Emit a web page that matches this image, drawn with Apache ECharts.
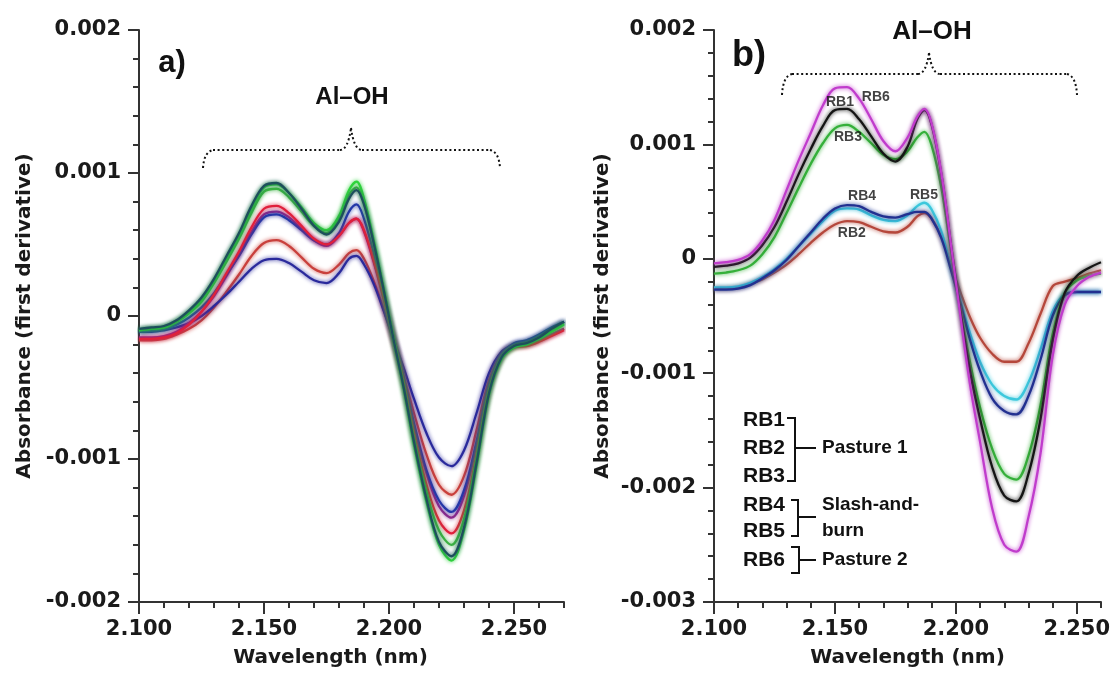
<!DOCTYPE html>
<html><head><meta charset="utf-8">
<script src="https://cdn.jsdelivr.net/npm/echarts@6/dist/echarts.min.js"></script>
<style>html,body{margin:0;padding:0;background:#fff}#c{width:1114px;height:673px}</style>
</head><body><div id="c"></div>
<script>
// ---------- DATA ----------
const wavelengthA = [2.100,2.105,2.110,2.115,2.120,2.125,2.130,2.135,2.140,2.145,2.150,2.155,2.160,2.165,2.170,2.175,2.180,2.184,2.187,2.190,2.194,2.198,2.202,2.206,2.210,2.215,2.220,2.225,2.230,2.235,2.240,2.245,2.250,2.255,2.260,2.265,2.270];
const wavelengthB = [2.100,2.105,2.110,2.115,2.120,2.125,2.130,2.135,2.140,2.145,2.150,2.155,2.160,2.165,2.170,2.175,2.180,2.184,2.187,2.190,2.194,2.198,2.202,2.206,2.210,2.215,2.220,2.225,2.230,2.235,2.240,2.245,2.250,2.255,2.260];
const xTickValues = [2.100, 2.150, 2.200, 2.250];

// panel a) spectra
const aRedLow   = [-0.00017,-0.00017,-0.00016,-0.00013,-0.00009,-0.00003,0.00006,0.00017,0.00029,0.00042,0.00051,0.00053,0.00049,0.00041,0.00033,0.00030,0.00036,0.00044,0.00046,0.00040,0.00024,0.00004,-0.00019,-0.00043,-0.00068,-0.00097,-0.00118,-0.00125,-0.00112,-0.00080,-0.00045,-0.00027,-0.00021,-0.00020,-0.00017,-0.00013,-0.00009];
const aBlueLow  = [-0.00011,-0.00011,-0.00010,-0.00008,-0.00005,0.00000,0.00007,0.00015,0.00024,0.00033,0.00039,0.00040,0.00037,0.00031,0.00025,0.00023,0.00030,0.00040,0.00042,0.00036,0.00022,0.00003,-0.00017,-0.00037,-0.00058,-0.00082,-0.00099,-0.00105,-0.00094,-0.00068,-0.00040,-0.00025,-0.00020,-0.00018,-0.00014,-0.00009,-0.00004];
const aPurple   = [-0.00015,-0.00015,-0.00014,-0.00011,-0.00005,0.00003,0.00014,0.00028,0.00043,0.00059,0.00071,0.00073,0.00069,0.00061,0.00053,0.00049,0.00056,0.00065,0.00068,0.00059,0.00037,0.00011,-0.00016,-0.00045,-0.00077,-0.00110,-0.00133,-0.00141,-0.00126,-0.00090,-0.00050,-0.00028,-0.00021,-0.00020,-0.00017,-0.00013,-0.00009];
const aRed      = [-0.00016,-0.00016,-0.00015,-0.00012,-0.00006,0.00003,0.00015,0.00030,0.00045,0.00062,0.00075,0.00077,0.00072,0.00063,0.00054,0.00050,0.00056,0.00065,0.00068,0.00060,0.00038,0.00012,-0.00017,-0.00047,-0.00082,-0.00118,-0.00143,-0.00152,-0.00136,-0.00097,-0.00052,-0.00029,-0.00022,-0.00021,-0.00018,-0.00014,-0.00010];
const aBlue     = [-0.00011,-0.00010,-0.00009,-0.00006,-0.00001,0.00006,0.00016,0.00029,0.00042,0.00057,0.00069,0.00071,0.00067,0.00060,0.00053,0.00050,0.00058,0.00073,0.00078,0.00068,0.00043,0.00014,-0.00016,-0.00044,-0.00075,-0.00108,-0.00129,-0.00137,-0.00122,-0.00088,-0.00048,-0.00027,-0.00019,-0.00017,-0.00013,-0.00008,-0.00004];
const aGreenMid = [-0.00010,-0.00009,-0.00008,-0.00004,0.00002,0.00010,0.00023,0.00038,0.00054,0.00072,0.00087,0.00089,0.00083,0.00073,0.00063,0.00058,0.00068,0.00085,0.00090,0.00079,0.00050,0.00017,-0.00017,-0.00050,-0.00086,-0.00123,-0.00150,-0.00160,-0.00142,-0.00100,-0.00053,-0.00029,-0.00021,-0.00019,-0.00015,-0.00010,-0.00005];
const aGreen    = [-0.00010,-0.00009,-0.00008,-0.00004,0.00002,0.00011,0.00024,0.00040,0.00056,0.00075,0.00090,0.00092,0.00086,0.00076,0.00065,0.00060,0.00070,0.00088,0.00094,0.00082,0.00052,0.00018,-0.00018,-0.00052,-0.00090,-0.00130,-0.00160,-0.00171,-0.00150,-0.00105,-0.00055,-0.00030,-0.00022,-0.00020,-0.00016,-0.00011,-0.00006];
const aTeal     = [-0.00009,-0.00008,-0.00007,-0.00003,0.00004,0.00013,0.00026,0.00042,0.00058,0.00077,0.00091,0.00093,0.00086,0.00075,0.00063,0.00057,0.00066,0.00082,0.00088,0.00078,0.00050,0.00017,-0.00018,-0.00051,-0.00088,-0.00128,-0.00158,-0.00168,-0.00148,-0.00103,-0.00054,-0.00029,-0.00021,-0.00019,-0.00015,-0.00009,-0.00004];

// panel b) spectra
const rb2 = [-0.00026,-0.00026,-0.00025,-0.00022,-0.00018,-0.00012,-0.00005,0.00004,0.00014,0.00023,0.00030,0.00033,0.00032,0.00028,0.00024,0.00023,0.00028,0.00037,0.00040,0.00035,0.00019,-0.00006,-0.00030,-0.00052,-0.00069,-0.00083,-0.00090,-0.00090,-0.00074,-0.00048,-0.00024,-0.00020,-0.00017,-0.00013,-0.00010];
const rb5 = [-0.00025,-0.00025,-0.00024,-0.00021,-0.00016,-0.00009,0.00000,0.00011,0.00022,0.00033,0.00042,0.00044,0.00043,0.00038,0.00034,0.00033,0.00038,0.00046,0.00049,0.00043,0.00024,-0.00008,-0.00038,-0.00066,-0.00090,-0.00110,-0.00120,-0.00123,-0.00108,-0.00079,-0.00046,-0.00031,-0.00029,-0.00029,-0.00029];
const rb4 = [-0.00027,-0.00027,-0.00026,-0.00023,-0.00017,-0.00010,-0.00001,0.00011,0.00023,0.00035,0.00044,0.00047,0.00046,0.00041,0.00037,0.00036,0.00039,0.00041,0.00041,0.00035,0.00018,-0.00010,-0.00040,-0.00072,-0.00098,-0.00122,-0.00133,-0.00136,-0.00120,-0.00088,-0.00050,-0.00032,-0.00029,-0.00029,-0.00029];
const rb3 = [-0.00013,-0.00012,-0.00010,-0.00006,0.00004,0.00019,0.00040,0.00062,0.00083,0.00101,0.00114,0.00117,0.00111,0.00101,0.00091,0.00087,0.00094,0.00106,0.00111,0.00099,0.00062,0.00007,-0.00045,-0.00092,-0.00130,-0.00166,-0.00188,-0.00193,-0.00172,-0.00128,-0.00066,-0.00030,-0.00019,-0.00015,-0.00013];
const rb1 = [-0.00007,-0.00006,-0.00004,0.00001,0.00012,0.00028,0.00050,0.00074,0.00096,0.00116,0.00130,0.00131,0.00122,0.00107,0.00092,0.00085,0.00098,0.00122,0.00130,0.00117,0.00074,0.00012,-0.00048,-0.00100,-0.00140,-0.00182,-0.00207,-0.00212,-0.00188,-0.00140,-0.00072,-0.00030,-0.00015,-0.00008,-0.00003];
const rb6 = [-0.00004,-0.00003,-0.00001,0.00004,0.00016,0.00034,0.00060,0.00086,0.00110,0.00134,0.00149,0.00150,0.00140,0.00122,0.00103,0.00094,0.00106,0.00124,0.00131,0.00118,0.00075,0.00012,-0.00052,-0.00112,-0.00160,-0.00218,-0.00250,-0.00256,-0.00226,-0.00170,-0.00085,-0.00040,-0.00024,-0.00016,-0.00012];

// on-curve labels of panel b)
const rbLabelNames = ['RB1','RB6','RB3','RB4','RB5','RB2'];
const rbLabelX = [2.1521, 2.1669, 2.1554, 2.1612, 2.1868, 2.1570];
const rbLabelY = [0.00137, 0.00141, 0.00106, 0.00055, 0.00056, 0.00022];

// key text of panel b)
const keyNames = ['RB1','RB2','RB3','RB4','RB5','RB6'];
const keyGroups = ['Pasture 1','Slash-and-','burn','Pasture 2'];

// ---------- CHART ----------
const chart = echarts.init(document.getElementById('c'), null, {renderer:'canvas'});
const AXC = '#333';
const labelFont = {fontFamily:'DejaVu Sans', fontWeight:'bold', fontSize:21, color:'#1a1a1a'};
const nameFont = {fontFamily:'DejaVu Sans', fontWeight:'bold', fontSize:20, color:'#1a1a1a'};
const fmtX = v => v.toFixed(3);
const fmtY = v => (Math.abs(v) < 1e-12 ? '0' : v.toFixed(3));

function minorX(grid, max) {
  return {gridIndex:grid, type:'value', min:2.1, max:max, interval:0.01, position:'bottom',
    axisLine:{show:true, onZero:false, lineStyle:{color:AXC, width:2}},
    axisTick:{show:true, inside:false, length:6, lineStyle:{color:AXC, width:2}},
    axisLabel:{show:false}, splitLine:{show:false}};
}
function majorX(grid, max, pad) {
  return {gridIndex:grid, type:'value', min:2.1, max:max, interval:0.05, position:'bottom',
    axisLine:{show:false, onZero:false},
    axisTick:{show:true, length:12, lineStyle:{color:AXC, width:2}, customValues:xTickValues},
    axisLabel:Object.assign({margin:17, formatter:fmtX, customValues:xTickValues, showMaxLabel:true, showMinLabel:true}, labelFont),
    splitLine:{show:false},
    name:'Wavelength (nm)', nameLocation:'middle', nameGap:46,
    nameTextStyle:Object.assign({padding:pad}, nameFont)};
}
function yAx(grid, min, gap) {
  return {gridIndex:grid, type:'value', min:min, max:0.002, interval:0.001,
    axisLine:{show:true, onZero:false, lineStyle:{color:AXC, width:2}},
    axisTick:{show:true, length:11, lineStyle:{color:AXC, width:2}},
    minorTick:{show:true, splitNumber:5, length:6, lineStyle:{color:AXC, width:2}},
    axisLabel:Object.assign({margin:18, formatter:fmtY}, labelFont),
    splitLine:{show:false}, minorSplitLine:{show:false},
    name:'Absorbance (first derivative)', nameLocation:'middle', nameGap:gap,
    nameTextStyle:nameFont};
}

function lineSeries(name, xs, ys, color, xi, yi, w) {
  return {name:name, type:'line', xAxisIndex:xi, yAxisIndex:yi, showSymbol:false, symbol:'none',
    smooth:0.35, silent:true,
    data: xs.map((x,i)=>[x, ys[i]]),
    lineStyle:{color:color, width:w||2.3, shadowColor:color, shadowBlur:4},
    itemStyle:{color:color}};
}

const panelA = [
  ['a-red-low', aRedLow, '#c9403c'],
  ['a-blue-low', aBlueLow, '#2a2a9c'],
  ['a-purple', aPurple, '#8c2a8c'],
  ['a-blue', aBlue, '#2438a8'],
  ['a-red', aRed, '#e0203c'],
  ['a-green-mid', aGreenMid, '#3cb043'],
  ['a-green', aGreen, '#2fd43c'],
  ['a-teal', aTeal, '#1e4f5c']
];
const panelB = [
  ['RB2', rb2, '#b5473b'],
  ['RB5', rb5, '#3cc8dc'],
  ['RB4', rb4, '#223090'],
  ['RB3', rb3, '#35b03a'],
  ['RB1', rb1, '#151515'],
  ['RB6', rb6, '#c03ccc']
];

const series = [];
panelA.forEach(s => series.push(lineSeries(s[0], wavelengthA, s[1], s[2], 0, 0)));
panelB.forEach(s => series.push(lineSeries(s[0], wavelengthB, s[1], s[2], 2, 1)));
series.push({type:'scatter', xAxisIndex:2, yAxisIndex:1, symbolSize:0, silent:true, z:10,
  data: rbLabelNames.map((n,i)=>({name:n, value:[rbLabelX[i], rbLabelY[i]]})),
  label:{show:true, position:'inside', formatter:'{b}', fontFamily:'Liberation Sans', fontWeight:'bold', fontSize:14, color:'#111'}});

const dotStyle = {stroke:'#111', lineWidth:2, lineDash:[2,2.6], fill:null};
function brace(pts) {
  const [xl, ye, yb, xp, yp, xr] = pts;
  return [
    {type:'bezierCurve', shape:{x1:xl, y1:ye, x2:xl+10, y2:yb, cpx1:xl+1, cpy1:yb+2}, style:dotStyle},
    {type:'line', shape:{x1:xl+10, y1:yb, x2:xp-11, y2:yb}, style:dotStyle},
    {type:'bezierCurve', shape:{x1:xp-11, y1:yb, x2:xp, y2:yp, cpx1:xp-3, cpy1:yb}, style:dotStyle},
    {type:'bezierCurve', shape:{x1:xp, y1:yp, x2:xp+11, y2:yb, cpx1:xp+3, cpy1:yb}, style:dotStyle},
    {type:'line', shape:{x1:xp+11, y1:yb, x2:xr-10, y2:yb}, style:dotStyle},
    {type:'bezierCurve', shape:{x1:xr-10, y1:yb, x2:xr, y2:ye, cpx1:xr-1, cpy1:yb+2}, style:dotStyle}
  ];
}
function txt(t, x, y, size, font, align) {
  return {type:'text', z:20, style:{text:t, x:x, y:y, font:'bold '+size+'px "'+(font||'Liberation Sans')+'"',
    fill:'#111', align:align||'center', textAlign:align||'center', verticalAlign:'middle', textVerticalAlign:'middle'}};
}
const blk = {stroke:'#111', lineWidth:2, fill:null};
const graphics = [].concat(
  brace([203,168,150,351,128,500]),
  brace([782,95,74,929,53,1077]),
  [
    txt('a)', 172, 63, 31),
    txt('b)', 749, 56, 36),
    txt('Al\u2013OH', 352, 97, 24),
    txt('Al\u2013OH', 932, 32, 26)
  ],
  keyNames.map((n,i)=>txt(n, 743, [420,448,476,505,531,560][i], 21, 'Liberation Sans', 'left')),
  keyGroups.map((n,i)=>txt(n, 822, [448,505,531,560][i], 19, 'Liberation Sans', 'left')),
  [
    {type:'polyline', shape:{points:[[787,418],[795,418],[795,481],[787,481]]}, style:blk},
    {type:'line', shape:{x1:795,y1:448,x2:816,y2:448}, style:blk},
    {type:'polyline', shape:{points:[[791,500],[798,500],[798,536],[791,536]]}, style:blk},
    {type:'line', shape:{x1:798,y1:517,x2:816,y2:517}, style:blk},
    {type:'polyline', shape:{points:[[791,547],[799,547],[799,573],[791,573]]}, style:blk},
    {type:'line', shape:{x1:799,y1:560,x2:816,y2:560}, style:blk}
  ]
);

chart.setOption({
  backgroundColor:'#fff',
  animation:false,
  grid:[
    {left:139, top:30, width:425, height:573, containLabel:false},
    {left:714, top:30, width:387, height:576, containLabel:false}
  ],
  xAxis:[minorX(0,2.27), majorX(0,2.27,[0,42,0,0]), minorX(1,2.26), majorX(1,2.26,[0,0,0,0])],
  yAxis:[yAx(0,-0.002,104), yAx(1,-0.003,101)],
  series: series,
  graphic: graphics
});
</script></body></html>
